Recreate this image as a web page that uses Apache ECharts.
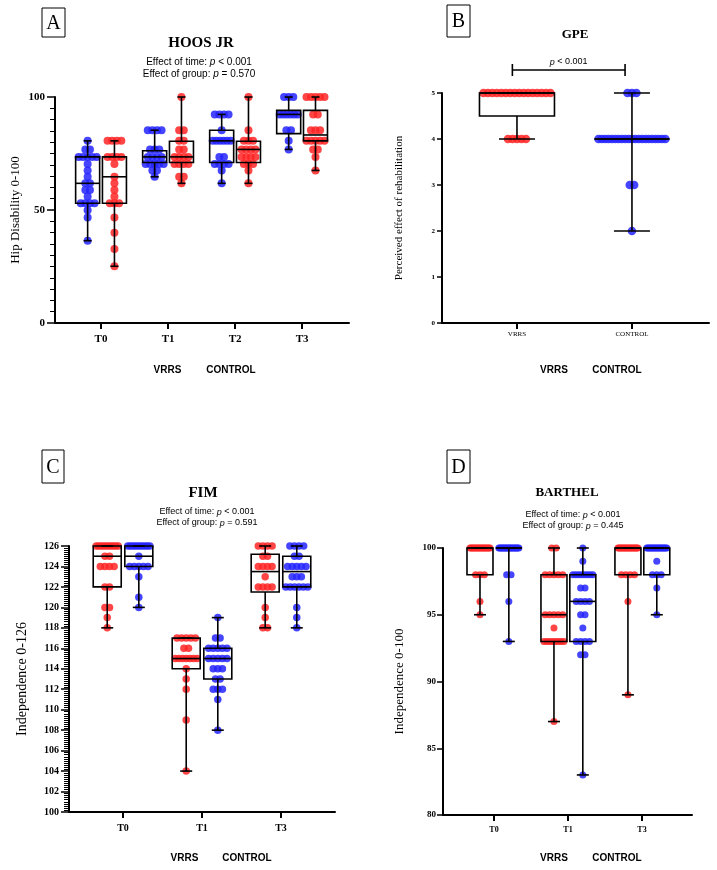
<!DOCTYPE html>
<html><head><meta charset="utf-8">
<script src="https://cdn.jsdelivr.net/npm/echarts@6/dist/echarts.min.js"></script>
<style>html,body{margin:0;padding:0;background:#fff}#c{width:717px;height:870px}</style>
</head><body><div id="c"></div>
<script>
// ================= DATA =================
// Panel A - HOOS JR (blue left, red right)
const hoosTimes = ['T0', 'T1', 'T2', 'T3'];
const hoosBlueT0 = [80.6, 76.8, 76.8, 73.5, 73.5, 73.5, 73.5, 73.5, 70.4, 67.5, 64.7, 61.8, 61.8, 58.9, 58.9, 56.0, 53.0, 53.0, 53.0, 53.0, 49.9, 46.7, 36.4];
const hoosBlueT1 = [85.3, 85.3, 85.3, 85.3, 76.8, 76.8, 76.8, 73.5, 73.5, 73.5, 73.5, 70.4, 70.4, 70.4, 70.4, 70.4, 67.5, 67.5, 64.7];
const hoosBlueT2 = [92.3, 92.3, 92.3, 92.3, 85.3, 80.6, 80.6, 80.6, 80.6, 80.6, 80.6, 73.5, 73.5, 70.4, 70.4, 70.4, 70.4, 67.5, 61.8];
const hoosBlueT3 = [100, 100, 100, 92.3, 92.3, 92.3, 92.3, 92.3, 92.3, 85.3, 85.3, 80.6, 76.8];
const hoosRedT0 = [80.6, 80.6, 80.6, 80.6, 73.5, 73.5, 73.5, 73.5, 70.4, 64.7, 61.8, 58.9, 56.0, 53.0, 53.0, 53.0, 46.7, 39.9, 32.7, 25.1];
const hoosRedT1 = [100, 85.3, 85.3, 80.6, 80.6, 76.8, 76.8, 73.5, 73.5, 73.5, 73.5, 70.4, 70.4, 70.4, 70.4, 64.7, 64.7, 61.8];
const hoosRedT2 = [100, 85.3, 80.6, 80.6, 80.6, 76.8, 76.8, 76.8, 76.8, 73.5, 73.5, 73.5, 73.5, 70.4, 70.4, 70.4, 67.5, 61.8];
const hoosRedT3 = [100, 100, 100, 100, 100, 92.3, 92.3, 85.3, 85.3, 85.3, 80.6, 80.6, 80.6, 80.6, 80.6, 76.8, 76.8, 73.5, 67.5];
// box stats: [min, q1, median, q3, max]
const hoosBlueBox = [[36.4, 53.0, 61.8, 73.5, 80.6], [64.7, 71.0, 73.5, 76.2, 85.3], [61.8, 71.0, 80.6, 85.3, 92.3], [76.8, 83.8, 92.3, 94.1, 100]];
const hoosRedBox = [[25.1, 53.0, 64.7, 73.5, 80.6], [61.8, 71.0, 73.5, 80.4, 100], [61.8, 71.0, 76.8, 80.4, 100], [67.5, 80.6, 83.2, 94.1, 100]];

// Panel B - GPE
const gpeGroups = ['VRRS', 'CONTROL'];
const gpeVRRS = [5, 5, 5, 5, 5, 5, 5, 5, 5, 5, 5, 5, 5, 5, 5, 5, 4, 4, 4, 4, 4];
const gpeControl = [5, 5, 5, 4, 4, 4, 4, 4, 4, 4, 4, 4, 4, 4, 4, 4, 4, 4, 4, 4, 4, 4, 4, 4, 3, 3, 2];
const gpeVRRSBox = [[4, 4.5, 5, 5, 5]];
const gpeControlBox = [[2, 4, 4, 4, 5]];
const gpeBracket = [[-0.04, 0.94, 5.5]];
const gpePText = 'p < 0.001';

// Panel C - FIM (red left, blue right)
const fimTimes = ['T0', 'T1', 'T3'];
const fimRedT0 = [126, 126, 126, 126, 126, 126, 126, 126, 126, 126, 125, 125, 124, 124, 124, 124, 122, 122, 120, 120, 119, 118];
const fimRedT1 = [117, 117, 117, 117, 117, 116, 116, 115, 115, 115, 115, 115, 115, 115, 114, 113, 112, 109, 104];
const fimRedT3 = [126, 126, 126, 126, 125, 125, 124, 124, 124, 124, 123, 122, 122, 122, 122, 120, 119, 118, 118];
const fimBlueT0 = [126, 126, 126, 126, 126, 126, 126, 126, 126, 126, 125, 124, 124, 124, 124, 124, 123, 121, 120];
const fimBlueT1 = [119, 117, 117, 116, 116, 116, 116, 116, 115, 115, 115, 115, 115, 114, 114, 114, 113, 113, 112, 112, 112, 111, 108];
const fimBlueT3 = [126, 126, 126, 126, 125, 125, 124, 124, 124, 124, 124, 123, 123, 123, 122, 122, 122, 122, 122, 122, 120, 119, 118];
const fimRedBox = [[118, 122, 125, 126, 126], [104, 114, 115, 117, 117], [118, 121.5, 123.5, 125.2, 126]];
const fimBlueBox = [[120, 124, 125, 126, 126], [108, 113, 115, 116, 119], [118, 122, 123.5, 125, 126]];

// Panel D - BARTHEL (red left, blue right)
const barTimes = ['T0', 'T1', 'T3'];
const barRedT0 = [100, 100, 100, 100, 100, 100, 100, 100, 100, 100, 100, 100, 100, 100, 100, 100, 100, 98, 98, 98, 96, 95];
const barRedT1 = [100, 100, 98, 98, 98, 98, 98, 95, 95, 95, 95, 95, 94, 93, 93, 93, 93, 93, 93, 93, 93, 87];
const barRedT3 = [100, 100, 100, 100, 100, 100, 100, 100, 100, 100, 100, 100, 100, 100, 100, 100, 100, 98, 98, 98, 98, 96, 89];
const barBlueT0 = [100, 100, 100, 100, 100, 100, 100, 100, 100, 100, 100, 100, 100, 100, 100, 100, 100, 100, 98, 98, 96, 93];
const barBlueT1 = [100, 99, 98, 98, 98, 98, 98, 98, 98, 98, 97, 97, 96, 96, 96, 96, 95, 95, 94, 93, 93, 93, 93, 92, 92, 83];
const barBlueT3 = [100, 100, 100, 100, 100, 100, 100, 100, 100, 100, 100, 100, 100, 100, 100, 100, 100, 99, 98, 98, 98, 97, 95];
const barRedBox = [[95, 98, 100, 100, 100], [87, 93, 95, 98, 100], [89, 98, 100, 100, 100]];
const barBlueBox = [[93, 100, 100, 100, 100], [83, 93, 96, 98, 100], [95, 98, 100, 100, 100]];

// ================= STYLE / LAYOUT =================
const SERIF = '"Liberation Serif","Times New Roman",serif';
const SANS = '"Liberation Sans",Arial,sans-serif';
const RED = '#ff2424', BLUE = '#2424ff';

const panels = [
  {
    grid: { left: 55, top: 97, width: 294, height: 226 },
    x: { min: -0.687, max: 3.7, ticks: [0, 1, 2, 3], cats: hoosTimes, size: 11, bold: true, margin: 11 },
    y: { min: 0, max: 100, interval: 50, minor: 10, size: 11, margin: 10, tickLen: 8, name: 'Hip Disability 0-100', nameSize: 13, nameGap: 33 },
    groups: [
      { color: BLUE, offset: -0.2, ticks: [0, 1, 2, 3], values: [hoosBlueT0, hoosBlueT1, hoosBlueT2, hoosBlueT3], box: hoosBlueBox },
      { color: RED, offset: 0.2, ticks: [0, 1, 2, 3], values: [hoosRedT0, hoosRedT1, hoosRedT2, hoosRedT3], box: hoosRedBox }
    ],
    boxW: 24, capW: 8, sym: 8, spacing: 4.6, maxSpan: 18
  },
  {
    grid: { left: 442, top: 93, width: 267, height: 230 },
    x: { min: -0.652, max: 1.67, ticks: [0, 1], cats: gpeGroups, size: 7, bold: false, margin: 8 },
    y: { min: 0, max: 5, interval: 1, minor: 0, size: 7, margin: 7, tickLen: 5, name: 'Perceived effect of rehabilitation', nameSize: 11, nameGap: 37 },
    groups: [
      { color: RED, offset: 0, ticks: [0], values: [gpeVRRS], box: gpeVRRSBox },
      { color: BLUE, offset: 0, ticks: [1], values: [gpeControl], box: gpeControlBox }
    ],
    boxW: 75, capW: 36, sym: 8.5, spacing: 4.5, maxSpan: 67
  },
  {
    grid: { left: 69, top: 546, width: 266, height: 266 },
    x: { min: -0.684, max: 2.684, ticks: [0, 1, 2], cats: fimTimes, size: 10, bold: true, margin: 11 },
    y: { min: 100, max: 126, interval: 2, minor: 10, size: 10, margin: 10, tickLen: 8, name: 'Independence 0-126', nameSize: 14, nameGap: 40 },
    groups: [
      { color: RED, offset: -0.2, ticks: [0, 1, 2], values: [fimRedT0, fimRedT1, fimRedT3], box: fimRedBox },
      { color: BLUE, offset: 0.2, ticks: [0, 1, 2], values: [fimBlueT0, fimBlueT1, fimBlueT3], box: fimBlueBox }
    ],
    boxW: 28, capW: 12, sym: 7.5, spacing: 4.6, maxSpan: 22
  },
  {
    grid: { left: 443, top: 548, width: 249, height: 267 },
    x: { min: -0.69, max: 2.676, ticks: [0, 1, 2], cats: barTimes, size: 8, bold: true, margin: 11 },
    y: { min: 80, max: 100, interval: 5, minor: 0, size: 9, margin: 7, tickLen: 6, name: 'Independence 0-100', nameSize: 13, nameGap: 37 },
    groups: [
      { color: RED, offset: -0.19, ticks: [0, 1, 2], values: [barRedT0, barRedT1, barRedT3], box: barRedBox },
      { color: BLUE, offset: 0.2, ticks: [0, 1, 2], values: [barBlueT0, barBlueT1, barBlueT3], box: barBlueBox }
    ],
    boxW: 26, capW: 12, sym: 7, spacing: 4.4, maxSpan: 20
  }
];

function boxRenderer(p) {
  return function (params, api) {
    const x = api.value(0);
    const c = v => api.coord([x, v]);
    const pMin = c(api.value(1)), pQ1 = c(api.value(2)), pMed = c(api.value(3)), pQ3 = c(api.value(4)), pMax = c(api.value(5));
    const cx = pMin[0], hw = p.boxW / 2, hc = p.capW / 2;
    const ls = { stroke: '#000', lineWidth: 1.6, fill: 'none' };
    return {
      type: 'group', children: [
        { type: 'line', shape: { x1: cx, y1: pQ3[1], x2: cx, y2: pMax[1] }, style: ls },
        { type: 'line', shape: { x1: cx, y1: pQ1[1], x2: cx, y2: pMin[1] }, style: ls },
        { type: 'line', shape: { x1: cx - hc, y1: pMax[1], x2: cx + hc, y2: pMax[1] }, style: ls },
        { type: 'line', shape: { x1: cx - hc, y1: pMin[1], x2: cx + hc, y2: pMin[1] }, style: ls },
        { type: 'rect', shape: { x: cx - hw, y: pQ3[1], width: 2 * hw, height: pQ1[1] - pQ3[1] }, style: ls },
        { type: 'line', shape: { x1: cx - hw, y1: pMed[1], x2: cx + hw, y2: pMed[1] }, style: ls }
      ]
    };
  };
}

const option = { animation: false, backgroundColor: '#fff', grid: [], xAxis: [], yAxis: [], series: [], graphic: [] };

panels.forEach((p, i) => {
  option.grid.push(Object.assign({ containLabel: false }, p.grid));
  option.xAxis.push({
    type: 'value', gridIndex: i, min: p.x.min, max: p.x.max,
    axisLine: { onZero: false, lineStyle: { color: '#000', width: 2 } },
    axisTick: { customValues: p.x.ticks, length: 6, lineStyle: { color: '#000', width: 2 } },
    axisLabel: {
      customValues: p.x.ticks, margin: p.x.margin, color: '#000',
      fontFamily: SERIF, fontSize: p.x.size, fontWeight: p.x.bold ? 'bold' : 'normal',
      formatter: v => p.x.cats[Math.round(v)]
    },
    splitLine: { show: false }
  });
  option.yAxis.push({
    type: 'value', gridIndex: i, min: p.y.min, max: p.y.max, interval: p.y.interval,
    name: p.y.name, nameLocation: 'middle', nameRotate: 90, nameGap: p.y.nameGap,
    nameTextStyle: { fontFamily: SERIF, fontSize: p.y.nameSize, color: '#000' },
    axisLine: { onZero: false, lineStyle: { color: '#000', width: 2 } },
    axisTick: { length: p.y.tickLen, lineStyle: { color: '#000', width: 1.5 } },
    minorTick: { show: p.y.minor > 0, splitNumber: p.y.minor || 5, length: 5, lineStyle: { color: '#000', width: 1 } },
    axisLabel: { margin: p.y.margin, color: '#000', fontFamily: SERIF, fontSize: p.y.size, fontWeight: 'bold' },
    splitLine: { show: false }
  });
  p.groups.forEach(g => {
    const data = [];
    g.values.forEach((vals, t) => {
      const xc = g.ticks[t] + g.offset;
      const counts = new Map();
      vals.forEach(v => counts.set(v, (counts.get(v) || 0) + 1));
      counts.forEach((n, v) => {
        const s = n > 1 ? Math.min(p.spacing, p.maxSpan / (n - 1)) : 0;
        for (let k = 0; k < n; k++) data.push({ value: [xc, v], symbolOffset: [(k - (n - 1) / 2) * s, 0] });
      });
    });
    option.series.push({
      type: 'scatter', xAxisIndex: i, yAxisIndex: i, data, symbolSize: p.sym, silent: true, z: 2,
      itemStyle: { color: g.color, opacity: 0.85 }
    });
    option.series.push({
      type: 'custom', xAxisIndex: i, yAxisIndex: i, z: 3, silent: true,
      data: g.box.map((b, t) => [g.ticks[t] + g.offset].concat(b)),
      encode: { x: 0, y: [1, 2, 3, 4, 5] },
      renderItem: boxRenderer(p)
    });
  });
});

// significance bracket in panel B
option.series.push({
  type: 'custom', xAxisIndex: 1, yAxisIndex: 1, z: 4, silent: true, clip: false,
  data: gpeBracket,
  encode: { x: [0, 1], y: 2 },
  renderItem: function (params, api) {
    const a = api.coord([api.value(0), api.value(2)]);
    const b = api.coord([api.value(1), api.value(2)]);
    const ls = { stroke: '#000', lineWidth: 1.6 };
    return {
      type: 'group', children: [
        { type: 'line', shape: { x1: a[0], y1: a[1], x2: b[0], y2: b[1] }, style: ls },
        { type: 'line', shape: { x1: a[0], y1: a[1] - 6, x2: a[0], y2: a[1] + 6 }, style: ls },
        { type: 'line', shape: { x1: b[0], y1: b[1] - 6, x2: b[0], y2: b[1] + 6 }, style: ls },
        {
          type: 'text', x: (a[0] + b[0]) / 2, y: a[1] - 8,
          style: {
            text: '{i|p}' + gpePText.slice(1), fill: '#000', fontSize: 9, fontFamily: SANS,
            align: 'center', verticalAlign: 'middle',
            rich: { i: { fontStyle: 'italic', fontSize: 9, fontFamily: SANS } }
          }
        }
      ]
    };
  }
});

function txt(x, y, text, size, family, weight, extra) {
  return Object.assign({
    type: 'text', x, y, silent: true,
    style: { text, fill: '#000', fontSize: size, fontFamily: family, fontWeight: weight || 'normal', align: 'center', verticalAlign: 'middle' }
  }, extra || {});
}
function richTxt(x, y, text, size) {
  return {
    type: 'text', x, y, silent: true,
    style: {
      text, fill: '#000', fontSize: size, fontFamily: SANS, align: 'center', verticalAlign: 'middle',
      rich: { i: { fontStyle: 'italic', fontSize: size, fontFamily: SANS, fill: '#000' } }
    }
  };
}
function letterBox(x, y, w, h, letter) {
  return [
    { type: 'rect', silent: true, shape: { x, y, width: w, height: h }, style: { fill: '#fff', stroke: '#000', lineWidth: 1 } },
    txt(x + w / 2, y + h / 2 + 1, letter, 20, SERIF)
  ];
}

option.graphic = [].concat(
  letterBox(42, 8, 23, 29, 'A'),
  letterBox(447, 5, 23, 32, 'B'),
  letterBox(42, 450, 22, 33, 'C'),
  letterBox(447, 450, 23, 33, 'D'),
  [
    txt(201, 43, 'HOOS JR', 15, SERIF, 'bold'),
    richTxt(199, 62, 'Effect of time: {i|p} < 0.001', 10),
    richTxt(199, 74, 'Effect of group: {i|p} = 0.570', 10),
    txt(575, 35, 'GPE', 13, SERIF, 'bold'),
    txt(203, 493, 'FIM', 15, SERIF, 'bold'),
    richTxt(207, 512, 'Effect of time: {i|p} < 0.001', 9),
    richTxt(207, 523, 'Effect of group: {i|p} = 0.591', 9),
    txt(567, 493, 'BARTHEL', 13, SERIF, 'bold'),
    richTxt(573, 515, 'Effect of time: {i|p} < 0.001', 9),
    richTxt(573, 526, 'Effect of group: {i|p} = 0.445', 9),
    txt(167.5, 370, 'VRRS', 10, SANS, 'bold'),
    txt(231, 370, 'CONTROL', 10, SANS, 'bold'),
    txt(554, 370, 'VRRS', 10, SANS, 'bold'),
    txt(617, 370, 'CONTROL', 10, SANS, 'bold'),
    txt(184.5, 858, 'VRRS', 10, SANS, 'bold'),
    txt(247, 858, 'CONTROL', 10, SANS, 'bold'),
    txt(554, 858, 'VRRS', 10, SANS, 'bold'),
    txt(617, 858, 'CONTROL', 10, SANS, 'bold')
  ]
);

const chart = echarts.init(document.getElementById('c'), null, { renderer: 'canvas' });
chart.setOption(option);
</script>
</body></html>
